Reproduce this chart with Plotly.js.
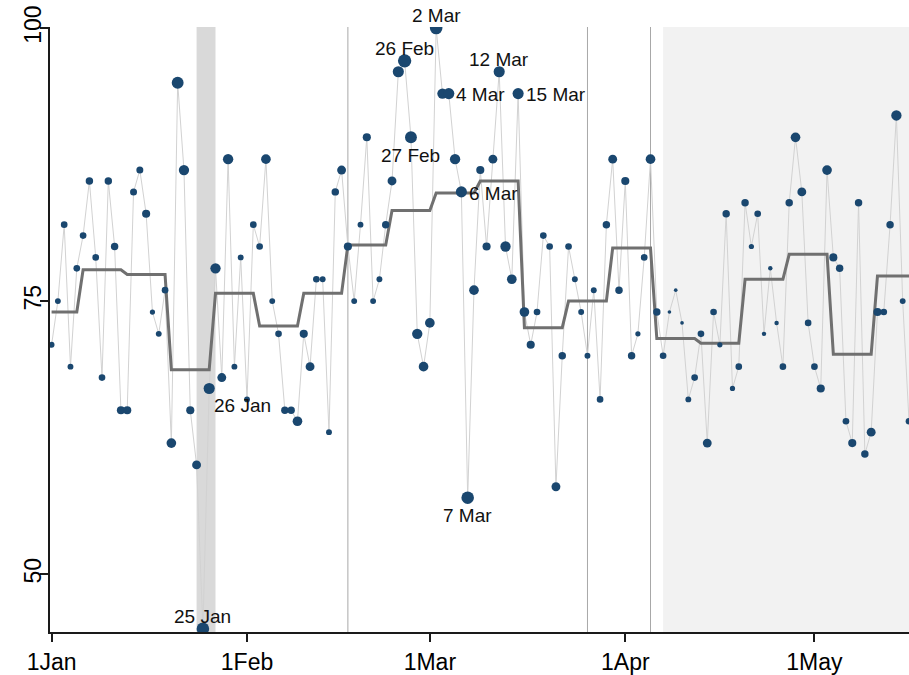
<!DOCTYPE html>
<html>
<head>
<meta charset="utf-8">
<script src="https://cdn.plot.ly/plotly-3.0.1.min.js"></script>
<style>
  html, body { margin: 0; padding: 0; background: #ffffff; }
  #chart { width: 909px; height: 675px; }
</style>
</head>
<body>
<div id="chart"></div>
<script>
// ---------- DATA ----------
// one value per day, starting 1 Jan 2024
const startDate = '2024-01-01';
const dailyValues = [
  71, 75, 82, 69, 78, 81, 86, 79, 68, 86,
  80, 65, 65, 85, 87, 83, 74, 72, 76, 62,
  95, 87, 65, 60, 45, 67, 78, 68, 88, 69,
  79, 66, 82, 80, 88, 75, 72, 65, 65, 64,
  72, 69, 77, 77, 63, 85, 87, 80, 75, 82,
  90, 75, 77, 82, 86, 96, 97, 90, 72, 69,
  73, 100, 94, 94, 88, 85, 57, 76, 87, 80,
  88, 96, 80, 77, 94, 74, 71, 74, 81, 80,
  58, 70, 80, 77, 74, 70, 76, 66, 82, 88,
  76, 86, 70, 72, 79, 88, 74, 70, 74, 76,
  73, 66, 68, 72, 62, 74, 71, 83, 67, 69,
  84, 80, 83, 72, 78, 73, 69, 84, 90, 85,
  73, 69, 67, 87, 79, 78, 64, 62, 84, 61,
  63, 74, 74, 82, 92, 75, 64
];
// relative weight of each day's point (drawn as marker diameter)
const dailyWeight = [
  5.3, 5.3, 6, 5.3, 6, 6, 6.7, 6, 6, 6.7,
  6.7, 7.3, 7.3, 6.3, 6.3, 7.3, 4.7, 5.3, 6, 8.7,
  10.7, 9.3, 7.3, 8, 11.3, 10, 9.3, 8, 9.3, 5.3,
  5.3, 5.3, 6, 6, 8.7, 5.3, 6, 6.7, 6.7, 8.7,
  7.3, 8, 6, 5.3, 5.3, 6.7, 8, 7.3, 5.3, 5.3,
  7.3, 5.3, 5.3, 6.7, 8, 10, 12, 10.7, 9.3, 8.7,
  8.7, 11.3, 9.3, 10, 9.3, 10, 11.3, 8.7, 7.3, 7.3,
  8, 10, 9.3, 8.7, 10, 8.7, 7.3, 6, 6, 6,
  8, 6.7, 6, 5.3, 5.3, 5.3, 5.3, 6, 6.7, 8,
  6.7, 7.3, 6.7, 4.7, 6, 8.7, 6.7, 6, 3.3, 3.3,
  3.3, 5.3, 6, 6, 8, 6, 4.7, 6.7, 4.7, 6,
  6.7, 4.7, 6, 4, 4, 4, 6, 6.7, 8.7, 8,
  6, 6, 7.3, 8.7, 7.3, 6.7, 6, 7.3, 6.7, 6.7,
  8, 7.3, 6, 6.7, 9.3, 5.3, 6
];
// weekly level (step line)
const weekStart = ['2024-01-01','2024-01-06','2024-01-13','2024-01-20','2024-01-27','2024-02-03','2024-02-10',
  '2024-02-17','2024-02-24','2024-03-02','2024-03-09','2024-03-16','2024-03-23','2024-03-30','2024-04-06',
  '2024-04-13','2024-04-20','2024-04-27','2024-05-04','2024-05-11'];
const weekEnd = ['2024-01-05','2024-01-12','2024-01-19','2024-01-26','2024-02-02','2024-02-09','2024-02-16',
  '2024-02-23','2024-03-01','2024-03-08','2024-03-15','2024-03-22','2024-03-29','2024-04-05','2024-04-12',
  '2024-04-19','2024-04-26','2024-05-03','2024-05-10','2024-05-16'];
const weekLevel = [74.0, 77.86, 77.43, 68.71, 75.71, 72.71, 75.71, 80.14, 83.29, 84.9,
  86.0, 72.57, 75.0, 79.86, 71.57, 71.14, 77.0, 79.29, 70.14, 77.3];

// labelled points
const labelDates = ['2024-01-25','2024-01-26','2024-02-26','2024-02-27','2024-03-02','2024-03-04','2024-03-06','2024-03-07','2024-03-12','2024-03-15'];
const labelTexts = ['25 Jan','26 Jan','26 Feb','27 Feb','2 Mar','4 Mar','6 Mar','7 Mar','12 Mar','15 Mar'];
const labelValues = [45, 67, 97, 90, 100, 94, 85, 57, 96, 94];
const labelPos = ['above','belowright','above','below','above','right','right','below','above','right'];

// reference lines and shaded periods
const refLines = ['2024-02-17','2024-03-26','2024-04-05'];
const darkBand = ['2024-01-24','2024-01-27'];
const lightBand = ['2024-04-07','2024-05-20'];

// axis ticks
const xTickVals = ['2024-01-01','2024-02-01','2024-03-01','2024-04-01','2024-05-01'];
const xTickText = ['1Jan','1Feb','1Mar','1Apr','1May'];
const yTickVals = [50, 75, 100];

// ---------- BUILD ----------
function dayStr(i) {
  const d = new Date(Date.parse(startDate + 'T00:00:00Z') + i * 86400000);
  return d.toISOString().slice(0, 10);
}
const dates = dailyValues.map((_, i) => dayStr(i));

const stepX = [], stepY = [];
weekStart.forEach((s, i) => { stepX.push(s, weekEnd[i]); stepY.push(weekLevel[i], weekLevel[i]); });

const navy = 'rgb(26,71,111)';
const traces = [
  { x: dates, y: dailyValues, type: 'scatter', mode: 'lines',
    line: { color: '#d2d2d2', width: 1 }, hoverinfo: 'skip', showlegend: false },
  { x: stepX, y: stepY, type: 'scatter', mode: 'lines',
    line: { color: '#707070', width: 3 }, showlegend: false },
  { x: dates, y: dailyValues, type: 'scatter', mode: 'markers',
    marker: { color: navy, opacity: 1, size: dailyWeight, sizemode: 'diameter', sizeref: 0.9, line: { width: 0 } },
    showlegend: false }
];

const shapes = [
  { type: 'rect', xref: 'x', yref: 'paper', x0: darkBand[0], x1: darkBand[1], y0: 0, y1: 1,
    fillcolor: '#d9d9d9', line: { width: 0 }, layer: 'below' },
  { type: 'rect', xref: 'x', yref: 'paper', x0: lightBand[0], x1: lightBand[1], y0: 0, y1: 1,
    fillcolor: '#f2f2f2', line: { width: 0 }, layer: 'below' }
];
refLines.forEach(d => shapes.push({ type: 'line', xref: 'x', yref: 'paper', x0: d, x1: d, y0: 0, y1: 1,
  line: { color: '#a8a8a8', width: 1 }, layer: 'below' }));

const posStyle = {
  above:      { xanchor: 'center', yanchor: 'middle', xshift: 0,   yshift: 12.5 },
  below:      { xanchor: 'center', yanchor: 'middle', xshift: 0,   yshift: -17.8 },
  right:      { xanchor: 'left',   yanchor: 'middle', xshift: 5.5, yshift: -1.2 },
  belowright: { xanchor: 'left',   yanchor: 'middle', xshift: 3,   yshift: -16.7 }
};
const annotations = labelDates.map((d, i) => Object.assign({
  x: d, y: labelValues[i], xref: 'x', yref: 'y', text: labelTexts[i], showarrow: false,
  font: { family: 'Liberation Sans, Arial, sans-serif', size: 19, color: '#111' }
}, posStyle[labelPos[i]]));

const layout = {
  width: 909, height: 675,
  margin: { l: 50, r: 0, t: 27, b: 43, pad: 0 },
  paper_bgcolor: '#ffffff', plot_bgcolor: '#ffffff',
  font: { family: 'Liberation Sans, Arial, sans-serif', color: '#000' },
  showlegend: false,
  xaxis: {
    type: 'date', range: ['2023-12-31 18:00', '2024-05-16 00:00'],
    tickmode: 'array', tickvals: xTickVals, ticktext: xTickText,
    ticks: 'outside', ticklen: 8, tickwidth: 2, tickcolor: '#1a1a1a',
    showline: true, linecolor: '#1a1a1a', linewidth: 2,
    showgrid: false, zeroline: false,
    tickfont: { size: 23, color: '#000' }
  },
  yaxis: {
    range: [44.7, 100.1],
    tickmode: 'array', tickvals: yTickVals, ticktext: yTickVals.map(String),
    tickangle: -90, ticklabelstandoff: -10,
    ticks: 'outside', ticklen: 8, tickwidth: 2, tickcolor: '#1a1a1a',
    showline: true, linecolor: '#1a1a1a', linewidth: 2,
    showgrid: false, zeroline: false,
    tickfont: { size: 23, color: '#000' }
  },
  shapes: shapes,
  annotations: annotations
};

Plotly.newPlot('chart', traces, layout, { displayModeBar: false, staticPlot: true });
</script>
</body>
</html>
